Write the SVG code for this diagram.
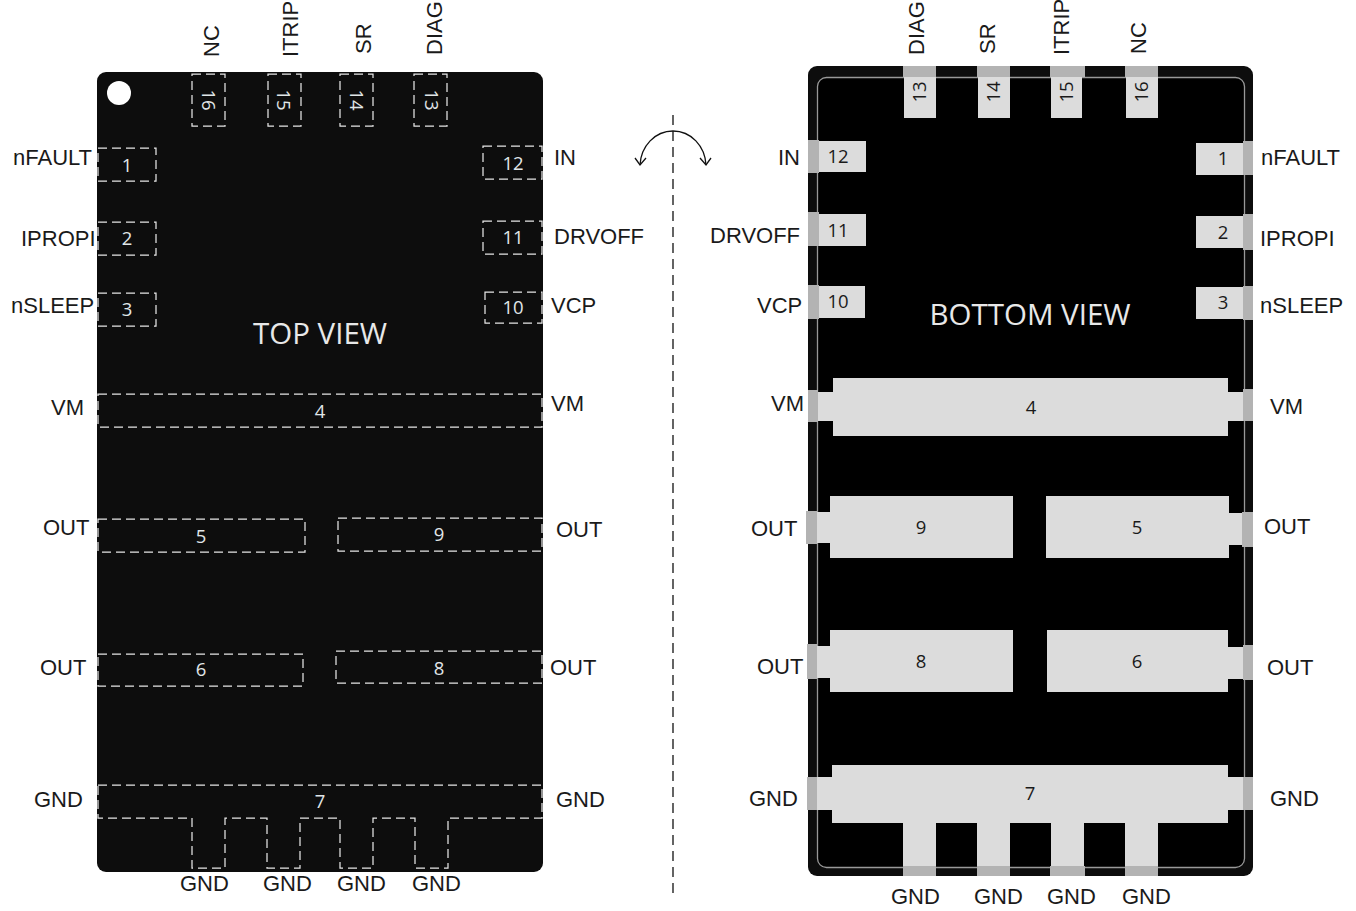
<svg xmlns="http://www.w3.org/2000/svg" width="1356" height="911" viewBox="0 0 1356 911">
<style>
text{font-family:"Liberation Sans",Arial,sans-serif;font-size:22px;fill:#1a1a1a}
text.n{font-family:"Open Sans","Noto Sans",sans-serif;font-size:18.5px;text-anchor:middle}
text.w{fill:#e0e6e8}
text.t{font-family:"Open Sans","Noto Sans",sans-serif;font-size:29.5px;fill:#e8e8e8;text-anchor:middle}
.d{fill:none;stroke:#e6e6e6;stroke-width:1.25;stroke-dasharray:9 5}
.p{fill:#dcdcdc}
.q{fill:#b3b3b3}
.a{fill:none;stroke:#111;stroke-width:1.3}
</style>
<rect width="1356" height="911" fill="#fff"/>
<g id="connectors">
<path d="M673 115V897" fill="none" stroke="#111" stroke-width="1.3" stroke-dasharray="10 6"/>
<path class="a" d="M640 165C641 146 655 131 673 131C691 131 705 146 706 165"/>
<path class="a" d="M635 158L640 165L646 158M700 158L706 165L711 158"/>
</g>
<g id="top-view">
<rect x="97" y="72" width="446" height="800" rx="9" fill="#0d0d0d"/>
<circle cx="119" cy="93" r="12" fill="#fff"/>
<text class="t" x="320" y="344">TOP VIEW</text>
</g>
<g id="top-pin-16"><rect class="d" x="192" y="74" width="33" height="52"/><text class="n w" transform="translate(202,100) rotate(90)">16</text><text transform="translate(219,57) rotate(-90)">NC</text></g>
<g id="top-pin-15"><rect class="d" x="268" y="74" width="33" height="52"/><text class="n w" transform="translate(277,100) rotate(90)">15</text><text transform="translate(298,57) rotate(-90)">ITRIP</text></g>
<g id="top-pin-14"><rect class="d" x="340" y="74" width="33" height="52"/><text class="n w" transform="translate(350,100) rotate(90)">14</text><text transform="translate(371,54) rotate(-90)">SR</text></g>
<g id="top-pin-13"><rect class="d" x="414" y="74" width="33" height="52"/><text class="n w" transform="translate(425,100) rotate(90)">13</text><text transform="translate(442,55) rotate(-90)">DIAG</text></g>
<g id="top-pin-1"><rect class="d" x="98" y="148" width="58" height="33"/><text class="n w" x="127" y="172">1</text><text x="13" y="165">nFAULT</text></g>
<g id="top-pin-2"><rect class="d" x="98" y="222" width="58" height="33"/><text class="n w" x="127" y="245">2</text><text x="21" y="246">IPROPI</text></g>
<g id="top-pin-3"><rect class="d" x="98" y="293" width="58" height="33"/><text class="n w" x="127" y="316">3</text><text x="11" y="313">nSLEEP</text></g>
<g id="top-pin-12"><rect class="d" x="483" y="146" width="59" height="33"/><text class="n w" x="513" y="170">12</text><text x="554" y="165">IN</text></g>
<g id="top-pin-11"><rect class="d" x="483" y="221" width="59" height="33"/><text class="n w" x="513" y="244">11</text><text x="554" y="244">DRVOFF</text></g>
<g id="top-pin-10"><rect class="d" x="485" y="292" width="57" height="31"/><text class="n w" x="513" y="314">10</text><text x="551" y="313">VCP</text></g>
<g id="top-pin-4"><rect class="d" x="98" y="394" width="444" height="33"/><text class="n w" x="320" y="418">4</text><text x="51" y="415">VM</text><text x="551" y="411">VM</text></g>
<g id="top-pin-5"><rect class="d" x="98" y="519" width="207" height="33"/><text class="n w" x="201" y="543">5</text><text x="43" y="535">OUT</text></g>
<g id="top-pin-9"><rect class="d" x="338" y="518" width="204" height="33"/><text class="n w" x="439" y="541">9</text><text x="556" y="537">OUT</text></g>
<g id="top-pin-6"><rect class="d" x="98" y="654" width="205" height="32"/><text class="n w" x="201" y="676">6</text><text x="40" y="675">OUT</text></g>
<g id="top-pin-8"><rect class="d" x="336" y="651" width="206" height="32"/><text class="n w" x="439" y="675">8</text><text x="550" y="675">OUT</text></g>
<g id="top-pin-7"><path class="d" d="M98 785H542V818H448V868H415V818H373V868H340V818H300V868H267V818H225V868H192V818H98Z"/><text class="n w" x="320" y="808">7</text><text x="34" y="807">GND</text><text x="556" y="807">GND</text><text x="180" y="891">GND</text><text x="263" y="891">GND</text><text x="337" y="891">GND</text><text x="412" y="891">GND</text></g>
<g id="bottom-view">
<rect x="808" y="66" width="445" height="810" rx="9" fill="#0d0d0d"/>
<rect x="817.5" y="77.5" width="427" height="790" rx="9" fill="#000" stroke="#999" stroke-width="1.3"/>
<text class="t" x="1030" y="325">BOTTOM VIEW</text>
</g>
<g id="bottom-pin-13"><rect class="p" x="904" y="77" width="32" height="41"/><rect class="q" x="903" y="66" width="33" height="11"/><text class="n" transform="translate(926,92) rotate(-90)">13</text><text transform="translate(924,55) rotate(-90)">DIAG</text></g>
<g id="bottom-pin-14"><rect class="p" x="978" y="77" width="32" height="41"/><rect class="q" x="977" y="66" width="33" height="11"/><text class="n" transform="translate(1000,92) rotate(-90)">14</text><text transform="translate(995,54) rotate(-90)">SR</text></g>
<g id="bottom-pin-15"><rect class="p" x="1051" y="77" width="31" height="41"/><rect class="q" x="1050" y="66" width="35" height="11"/><text class="n" transform="translate(1073,92) rotate(-90)">15</text><text transform="translate(1069,55) rotate(-90)">ITRIP</text></g>
<g id="bottom-pin-16"><rect class="p" x="1126" y="77" width="32" height="41"/><rect class="q" x="1125" y="66" width="33" height="11"/><text class="n" transform="translate(1148,92) rotate(-90)">16</text><text transform="translate(1146,54) rotate(-90)">NC</text></g>
<g id="bottom-pin-12"><rect class="p" x="817" y="141" width="49" height="31"/><rect class="q" x="808" y="140" width="11" height="33"/><text class="n" x="838" y="163">12</text><text x="778" y="165">IN</text></g>
<g id="bottom-pin-11"><rect class="p" x="817" y="214" width="49" height="32"/><rect class="q" x="808" y="212" width="11" height="34"/><text class="n" x="838" y="237">11</text><text x="710" y="243">DRVOFF</text></g>
<g id="bottom-pin-10"><rect class="p" x="817" y="286" width="48" height="32"/><rect class="q" x="808" y="285" width="11" height="34"/><text class="n" x="838" y="308">10</text><text x="757" y="313">VCP</text></g>
<g id="bottom-pin-1"><rect class="p" x="1196" y="143" width="47" height="32"/><rect class="q" x="1243" y="141" width="10" height="34"/><text class="n" x="1223" y="165">1</text><text x="1261" y="165">nFAULT</text></g>
<g id="bottom-pin-2"><rect class="p" x="1196" y="216" width="47" height="32"/><rect class="q" x="1243" y="214" width="10" height="36"/><text class="n" x="1223" y="239">2</text><text x="1260" y="246">IPROPI</text></g>
<g id="bottom-pin-3"><rect class="p" x="1196" y="287" width="47" height="32"/><rect class="q" x="1243" y="286" width="10" height="34"/><text class="n" x="1223" y="309">3</text><text x="1260" y="313">nSLEEP</text></g>
<g id="bottom-pin-4"><path class="p" d="M833 378H1228V392H1244V421H1228V436H833V421H817V392H833Z"/><rect class="q" x="808" y="390" width="10" height="32"/><rect class="q" x="1243" y="389" width="10" height="32"/><text class="n" x="1031" y="414">4</text><text x="771" y="411">VM</text><text x="1270" y="414">VM</text></g>
<g id="bottom-pin-9"><path class="p" d="M830 496H1013V558H830V543H817V512H830Z"/><rect class="q" x="806" y="511" width="11" height="33"/><text class="n" x="921" y="534">9</text><text x="751" y="536">OUT</text></g>
<g id="bottom-pin-5"><path class="p" d="M1046 496H1229V513H1243V545H1229V558H1046Z"/><rect class="q" x="1242" y="512" width="11" height="35"/><text class="n" x="1137" y="534">5</text><text x="1264" y="534">OUT</text></g>
<g id="bottom-pin-8"><path class="p" d="M830 630H1013V692H830V678H817V646H830Z"/><rect class="q" x="807" y="644" width="10" height="35"/><text class="n" x="921" y="668">8</text><text x="757" y="674">OUT</text></g>
<g id="bottom-pin-6"><path class="p" d="M1047 630H1228V647H1243V679H1228V692H1047Z"/><rect class="q" x="1243" y="645" width="10" height="35"/><text class="n" x="1137" y="668">6</text><text x="1267" y="675">OUT</text></g>
<g id="bottom-pin-7"><path class="p" d="M832 765H1228V777H1243V810H1228V823H1158V866H1125V823H1084V866H1051V823H1010V866H977V823H936V866H903V823H832V810H817V777H832Z"/><rect class="q" x="807" y="777" width="10" height="33"/><rect class="q" x="1243" y="777" width="10" height="33"/><rect class="q" x="903" y="866" width="33" height="10"/><rect class="q" x="977" y="866" width="33" height="10"/><rect class="q" x="1050" y="866" width="35" height="10"/><rect class="q" x="1125" y="866" width="33" height="10"/><text class="n" x="1030" y="800">7</text><text x="749" y="806">GND</text><text x="1270" y="806">GND</text><text x="891" y="904">GND</text><text x="974" y="904">GND</text><text x="1047" y="904">GND</text><text x="1122" y="904">GND</text></g>
</svg>
